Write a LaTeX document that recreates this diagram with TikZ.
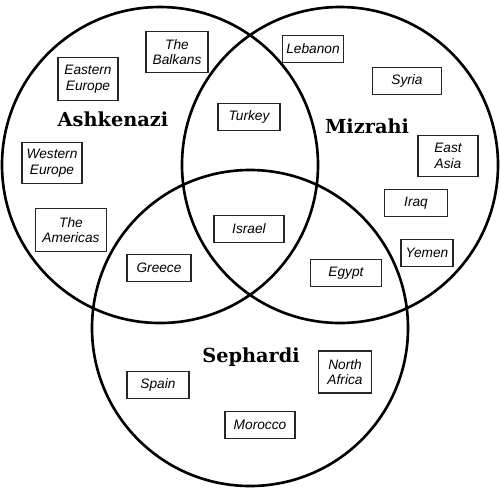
\documentclass[tikz,border=0pt]{standalone}
\usepackage{fontspec}
\setmainfont{Liberation Sans}
\newfontfamily\grpfont{DejaVu Serif}
\begin{document}
\begin{tikzpicture}[x=0.02cm,y=-0.02cm,
  ring/.style={draw=black,line width=1.5pt},
  lbl/.style={draw=black!85,line width=0.7pt,fill=white,align=center,
    font=\fontsize{7.8}{8.8}\selectfont\itshape,inner sep=1pt,minimum height=0.54cm},
  grp/.style={font=\fontsize{11}{13}\selectfont\grpfont\bfseries}]
\useasboundingbox (0,0) rectangle (500,491);
\draw[ring] (160,165) circle[radius=158];
\draw[ring] (340,165) circle[radius=158];
\draw[ring] (250,328) circle[radius=158];
\node[grp] (ash) at (113,119) {Ashkenazi};
\node[grp] (miz) at (367,126) {Mizrahi};
\node[grp] (sep) at (251,357) {Sephardi};
\node[lbl,minimum width=1.24cm,minimum height=0.82cm] (balk) at (177,52) {The\\Balkans};
\node[lbl,minimum width=1.2cm,minimum height=0.86cm] (ee) at (88,79) {Eastern\\Europe};
\node[lbl,minimum width=1.2cm,minimum height=0.82cm] (we) at (52,163) {Western\\Europe};
\node[lbl,minimum width=1.42cm,minimum height=0.86cm] (am) at (71,230) {The\\Americas};
\node[lbl,minimum width=1.22cm] (leb) at (313,49) {Lebanon};
\node[lbl,minimum width=1.38cm] (syr) at (407,81) {Syria};
\node[lbl,minimum width=1.24cm] (tur) at (249,117) {Turkey};
\node[lbl,minimum width=1.2cm,minimum height=0.82cm] (ea) at (448,156) {East\\Asia};
\node[lbl,minimum width=1.26cm] (irq) at (416,203) {Iraq};
\node[lbl,minimum width=1.04cm] (yem) at (427,253) {Yemen};
\node[lbl,minimum width=1.4cm] (isr) at (249,229) {Israel};
\node[lbl,minimum width=1.28cm] (gre) at (159,268) {Greece};
\node[lbl,minimum width=1.42cm] (egy) at (346,273) {Egypt};
\node[lbl,minimum width=1.24cm] (spa) at (158,385) {Spain};
\node[lbl,minimum width=1.06cm,minimum height=0.84cm] (naf) at (345,372) {North\\Africa};
\node[lbl,minimum width=1.4cm] (mor) at (260,425) {Morocco};
\end{tikzpicture}
\end{document}
